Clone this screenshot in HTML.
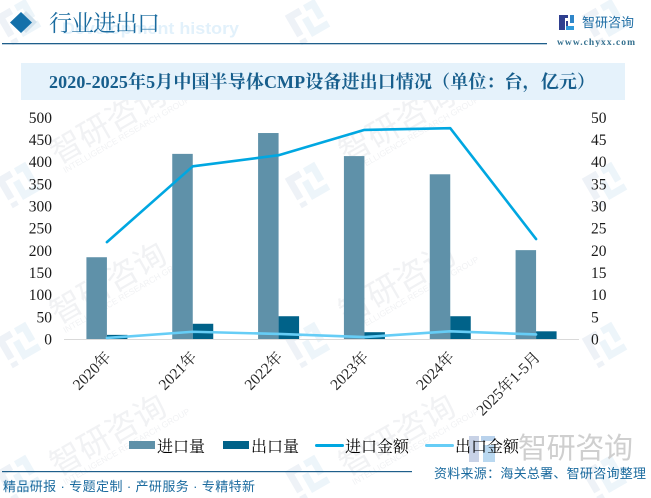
<!DOCTYPE html>
<html lang="zh">
<head>
<meta charset="utf-8">
<title>2020-2025年5月中国半导体CMP设备进出口情况</title>
<style>
html,body{margin:0;padding:0;background:#fff;width:651px;height:498px;overflow:hidden;}
#stage{position:relative;width:651px;height:498px;overflow:hidden;background:#fff;}
svg{position:absolute;left:0;top:0;display:block;overflow:hidden;}
.sf{font-family:"Liberation Serif","Noto Serif CJK SC",serif;}
.ss{font-family:"Liberation Sans","Noto Sans CJK SC",sans-serif;}
</style>
</head>
<body>
<div id="stage">
<svg id="chart" width="651" height="498" viewBox="0 0 651 498" xmlns="http://www.w3.org/2000/svg">
  <g id="watermarks"></g>

  <text x="62" y="34" class="ss" font-size="17" font-weight="700" fill="#e2f1fb" textLength="177" lengthAdjust="spacingAndGlyphs">Development history</text>
  <polygon points="26,11 37,22 26,33 15,22" fill="#d3e3ee"/>
  <polygon points="21,12 32,22.5 21,33 10,22.5" fill="#1470aa"/>
  <text x="49" y="31" class="sf" font-size="23" fill="#1a6b9f" textLength="111">行业进出口</text>
  <rect x="2" y="43" width="545" height="1.3" fill="#1f5f8b"/>

  <g>
    <rect x="559" y="15" width="6" height="15" fill="#2f3f8f"/>
    <rect x="565" y="15" width="3" height="3" fill="#2f3f8f"/>
    <rect x="566" y="21" width="2" height="6" fill="#2f3f8f"/>
    <rect x="570" y="15" width="4" height="8" fill="#2f86c9"/>
    <rect x="566" y="26" width="8" height="4" fill="#2f9adb"/>
  </g>
  <text x="582" y="27" class="ss" font-size="13" fill="#1f6ea5" textLength="52">智研咨询</text>
  <text x="557" y="45" class="sf" font-size="9.5" font-weight="700" fill="#34708f" textLength="78">www.chyxx.com</text>

  <rect x="21" y="63" width="604" height="37" fill="#e5f2fb"/>
  <text x="49" y="88" class="sf" font-size="18" font-weight="700" fill="#175e8c" textLength="546" lengthAdjust="spacing">2020-2025年5月中国半导体CMP设备进出口情况（单位：台，亿元）</text>

  <g id="left-axis"></g>
  <g id="right-axis"></g>
  <g id="bars"></g>
  <rect x="64" y="339" width="515" height="1" fill="#d9d9d9"/>
  <g id="lines"></g>
  <g id="x-axis"></g>

  <g>
    <rect x="469" y="436" width="10" height="26" fill="#c8d2e6"/>
    <rect x="481" y="436" width="14" height="5" fill="#b9d2ec"/>
    <rect x="483" y="445" width="12" height="17" fill="#b9d8f0"/>
    <text x="518" y="458" class="ss" font-size="29" fill="#cfcfcf" textLength="115">智研咨询</text>
  </g>

  <g>
    <rect x="129" y="441" width="26" height="8" fill="#5f91a9"/>
    <text x="157" y="452" class="sf" font-size="16" fill="#000">进口量</text>
    <rect x="223" y="441" width="26" height="8" fill="#006289"/>
    <text x="251" y="452" class="sf" font-size="16" fill="#000">出口量</text>
    <rect x="315" y="444" width="29" height="3" rx="1.5" fill="#00a7e1"/>
    <text x="345" y="452" class="sf" font-size="16" fill="#000">进口金额</text>
    <rect x="425" y="444" width="29" height="3" rx="1.5" fill="#66cdf6"/>
    <text x="455" y="452" class="sf" font-size="16" fill="#000">出口金额</text>
  </g>

  <rect x="2" y="471" width="410" height="1.2" fill="#1f5f8b"/>
  <text x="3" y="491" class="ss" font-size="13" fill="#1a6a9e" textLength="252">精品研报 · 专题定制 · 产研服务 · 专精特新</text>
  <text x="434" y="478" class="ss" font-size="13" fill="#1a6a9e" textLength="212">资料来源：海关总署、智研咨询整理</text>
</svg>
</div>
<script>
const categories = ['2020年', '2021年', '2022年', '2023年', '2024年', '2025年1-5月'];
const importVolume = [185, 418, 465, 413, 372, 201];
const exportVolume = [10, 35, 52, 16, 52, 18];
const importValue = [21.9, 39, 41.5, 47.2, 47.6, 22.6];
const exportValue = [0.3, 1.7, 1.2, 0.5, 1.8, 1.1];
const leftTicks = [0, 50, 100, 150, 200, 250, 300, 350, 400, 450, 500];
const rightTicks = [0, 5, 10, 15, 20, 25, 30, 35, 40, 45, 50];

const NS = 'http://www.w3.org/2000/svg';
const plotLeft = 64, plotRight = 579, plotBottom = 339.3, plotTop = 117.5;
const leftMax = 500, rightMax = 50;
const barWidth = 20.5;

function yLeft(v) { return plotBottom - (v / leftMax) * (plotBottom - plotTop); }
function yRight(v) { return plotBottom - (v / rightMax) * (plotBottom - plotTop); }
function xBand(i) { return plotLeft + (plotRight - plotLeft) * (i + 0.5) / categories.length; }
function make(tag, parent, attrs) {
  const el = document.createElementNS(NS, tag);
  Object.keys(attrs).forEach(function (k) { el.setAttribute(k, attrs[k]); });
  parent.appendChild(el);
  return el;
}
const serif = '"Liberation Serif","Noto Serif CJK SC",serif';
const sans = '"Liberation Sans","Noto Sans CJK SC",sans-serif';

/* faint repeating watermark: logo and wordmark are placed independently so everything stays inside the frame */
const wmLayer = document.getElementById('watermarks');
function addWatermark(lx, ly, withLogo, withText) {
  const g = make('g', wmLayer, { transform: 'translate(' + lx + ',' + ly + ') rotate(-30)' });
  
  
  if (withLogo) {
    const a = make('path', g, { d: 'M-17,-17H-1V-10H-10V8H-17Z M-17,12H-10V17H-17Z', fill: '#eef2f7' });
    
    
    const b = make('path', g, { d: 'M4,-17H17V3H10V-10H4Z M-4,-5H3V8H17V15H-4Z', fill: '#edf5fa' });
    
    
  }
  if (withText) {
    const t = make('text', g, { x: 44, y: 2, 'font-size': 32, fill: '#f1f2f4', 'font-family': sans });
    
    
    t.textContent = '智研咨询';
    const s = make('text', g, { x: 46, y: 13, 'font-size': 8.5, fill: '#f1f2f4', 'font-family': sans });
    
    
    s.textContent = 'INTELLIGENCE RESEARCH GROUP';
  }
}
[19, 308, 605].forEach(function (lx, c) {
  addWatermark(lx, 22, true, false);
  addWatermark(lx, 185, true, c < 2);
  addWatermark(lx, 345, true, c < 2);
  addWatermark(lx, 478, true, false);
  if (c < 2) { addWatermark(lx, 497, false, true); }
});

/* axes */
const leftAxis = document.getElementById('left-axis');
leftTicks.forEach(function (v) {
  const t = make('text', leftAxis, { x: 52, y: yLeft(v) + 5.3, 'text-anchor': 'end', 'font-size': 15.5, fill: '#1a1a1a', 'font-family': serif });
  
  
  t.textContent = v;
});
const rightAxis = document.getElementById('right-axis');
rightTicks.forEach(function (v) {
  const t = make('text', rightAxis, { x: 591, y: yRight(v) + 5.3, 'text-anchor': 'start', 'font-size': 15.5, fill: '#1a1a1a', 'font-family': serif });
  
  
  t.textContent = v;
});
const xAxis = document.getElementById('x-axis');
categories.forEach(function (c, i) {
  const tx = xBand(i) + 5, ty = 358;
  const t = make('text', xAxis, { x: tx, y: ty, 'text-anchor': 'end', 'font-size': 15.5, fill: '#262626', 'font-family': serif, transform: 'rotate(-45 ' + tx + ' ' + ty + ')' });
  
  
  t.textContent = c;
});

/* bars */
const barLayer = document.getElementById('bars');
categories.forEach(function (c, i) {
  const cx = xBand(i);
  const imp = make('rect', barLayer, { x: cx - barWidth, y: yLeft(importVolume[i]), width: barWidth, height: plotBottom - yLeft(importVolume[i]), fill: '#5f91a9' });
  
  
  const exp = make('rect', barLayer, { x: cx, y: yLeft(exportVolume[i]), width: barWidth, height: plotBottom - yLeft(exportVolume[i]), fill: '#006289' });
  
  
});

/* lines */
const lineLayer = document.getElementById('lines');
function pointsFor(series) {
  return series.map(function (v, i) { return xBand(i) + ',' + yRight(v); }).join(' ');
}
const impLine = make('polyline', lineLayer, { points: pointsFor(importValue), fill: 'none', stroke: '#00a7e1', 'stroke-width': 2.6, 'stroke-linecap': 'round', 'stroke-linejoin': 'round' });


const expLine = make('polyline', lineLayer, { points: pointsFor(exportValue), fill: 'none', stroke: '#66cdf6', 'stroke-width': 2.6, 'stroke-linecap': 'round', 'stroke-linejoin': 'round' });


</script>
</body>
</html>
